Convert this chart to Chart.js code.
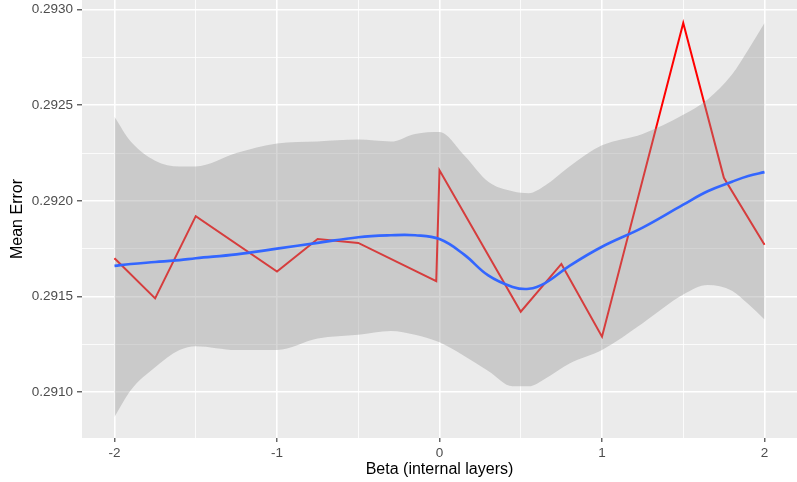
<!DOCTYPE html>
<html>
<head>
<meta charset="utf-8">
<script src="https://cdn.jsdelivr.net/npm/chart.js@4/dist/chart.umd.min.js"></script>
<style>
html,body{margin:0;padding:0;background:#ffffff;}
canvas{display:block;}
</style>
</head>
<body>
<canvas id="c" width="797" height="482"></canvas>
<script>
// Observed series (red line)
const betaX = [-2, -1.75, -1.5, -1, -0.75, -0.5, -0.02, 0, 0.5, 0.75, 1, 1.5, 1.75, 2];
const meanError = [0.29170, 0.29149, 0.29192, 0.29163, 0.29180, 0.29178, 0.29158, 0.29216, 0.29142, 0.29167, 0.29129, 0.29293, 0.29212, 0.29177];

// Smoothed fit (blue) and its confidence band
const smoothX = [-2, -1.9, -1.75, -1.6, -1.5, -1.25, -1, -0.75, -0.5, -0.3, -0.15, 0, 0.15, 0.3, 0.45, 0.55, 0.65, 0.8, 1.0, 1.25, 1.5, 1.65, 1.8, 1.9, 2];
const smoothY = [0.29166, 0.29167, 0.29168, 0.29169, 0.29170, 0.29172, 0.29175, 0.29178, 0.29181, 0.29182, 0.29182, 0.29180, 0.29172, 0.29161, 0.29155, 0.29154, 0.29157, 0.29166, 0.29176, 0.29186, 0.29198, 0.29205, 0.29210, 0.29213, 0.29215];
const bandUpper = [0.29244, 0.29231, 0.29221, 0.29218, 0.29218, 0.29225, 0.29230, 0.29231, 0.29232, 0.29231, 0.29235, 0.29236, 0.29224, 0.29210, 0.29205, 0.29204, 0.29208, 0.29218, 0.29229, 0.29235, 0.29245, 0.29253, 0.29266, 0.29279, 0.29293];
const bandLower = [0.29087, 0.29101, 0.29113, 0.29122, 0.29124, 0.29122, 0.29122, 0.29128, 0.29130, 0.29132, 0.29130, 0.29126, 0.29119, 0.29111, 0.29103, 0.29103, 0.29107, 0.29115, 0.29122, 0.29136, 0.29151, 0.29156, 0.29153, 0.29146, 0.29138];

const xTitle = "Beta (internal layers)";
const yTitle = "Mean Error";

const pts = (xs, ys) => xs.map((x, i) => ({x: x, y: ys[i]}));

const FONT = "'Liberation Sans', Arial, sans-serif";

const panelBg = {
  id: 'panelBg',
  beforeDraw(chart) {
    const {ctx, chartArea: a} = chart;
    ctx.save();
    ctx.fillStyle = '#ebebeb';
    ctx.fillRect(a.left, a.top, a.right - a.left, a.bottom - a.top);
    ctx.restore();
  }
};

const isMajorY = v => Math.abs(Math.round(v / 0.00025)) % 2 === 0;
const isMajorX = v => Math.abs(Math.round(v / 0.5)) % 2 === 0;

new Chart(document.getElementById('c'), {
  type: 'line',
  data: {
    datasets: [
      {
        label: 'smooth',
        data: pts(smoothX, smoothY),
        borderColor: '#3366ff',
        borderWidth: 2.6,
        pointRadius: 0,
        fill: false,
        tension: 0.4
      },
      {
        label: 'upper',
        data: pts(smoothX, bandUpper),
        borderWidth: 0,
        borderColor: 'rgba(0,0,0,0)',
        backgroundColor: 'rgba(153,153,153,0.4)',
        pointRadius: 0,
        fill: '+1',
        cubicInterpolationMode: 'monotone'
      },
      {
        label: 'lower',
        data: pts(smoothX, bandLower),
        borderWidth: 0,
        borderColor: 'rgba(0,0,0,0)',
        pointRadius: 0,
        fill: false,
        cubicInterpolationMode: 'monotone'
      },
      {
        label: 'observed',
        data: pts(betaX, meanError),
        borderColor: '#ff0000',
        borderWidth: 2,
        pointRadius: 0,
        fill: false,
        tension: 0
      }
    ]
  },
  options: {
    responsive: false,
    animation: false,
    devicePixelRatio: 1,
    layout: {padding: 0},
    plugins: {legend: {display: false}, tooltip: {enabled: false}},
    scales: {
      x: {
        type: 'linear',
        min: -2.2,
        max: 2.2,
        afterFit: s => { s.height = 44; s.paddingLeft = 0; s.paddingRight = 0; },
        ticks: {
          stepSize: 0.5,
          includeBounds: false,
          autoSkip: false,
          maxRotation: 0,
          padding: 3,
          color: '#4d4d4d',
          font: {family: FONT, size: 13.5},
          callback: v => isMajorX(v) ? String(Math.round(v)) : ''
        },
        grid: {
          color: '#ffffff',
          lineWidth: c => isMajorX(c.tick.value) ? 1.6 : 0.8,
          drawTicks: true,
          tickLength: 4,
          tickColor: c => isMajorX(c.tick.value) ? '#333333' : 'rgba(0,0,0,0)',
          tickWidth: 1.1
        },
        border: {display: false},
        title: {
          display: true,
          text: xTitle,
          color: '#000000',
          font: {family: FONT, size: 16},
          padding: {top: 0, bottom: 3}
        }
      },
      y: {
        type: 'linear',
        min: 0.29076,
        max: 0.29305,
        afterFit: s => { s.width = 82; s.paddingTop = 0; s.paddingBottom = 0; },
        ticks: {
          stepSize: 0.00025,
          includeBounds: false,
          autoSkip: false,
          padding: 4,
          color: '#4d4d4d',
          font: {family: FONT, size: 13.5},
          callback: v => isMajorY(v) ? v.toFixed(4) : ''
        },
        grid: {
          color: '#ffffff',
          lineWidth: c => isMajorY(c.tick.value) ? 1.6 : 0.8,
          drawTicks: true,
          tickLength: 5,
          tickColor: c => isMajorY(c.tick.value) ? '#333333' : 'rgba(0,0,0,0)',
          tickWidth: 1.1
        },
        border: {display: false},
        title: {
          display: true,
          text: yTitle,
          color: '#000000',
          font: {family: FONT, size: 16},
          padding: {top: 8, bottom: 0}
        }
      }
    }
  },
  plugins: [panelBg]
});
</script>
</body>
</html>
